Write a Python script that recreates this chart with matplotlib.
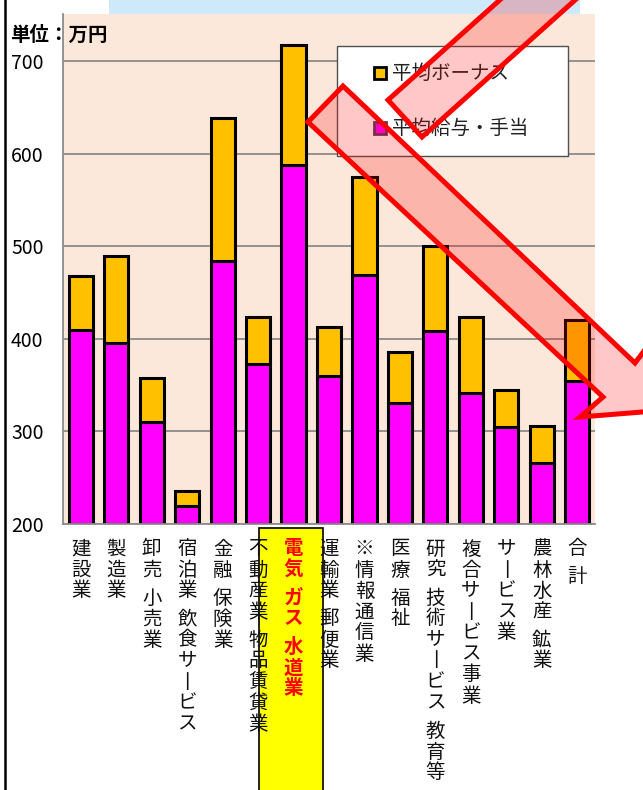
import matplotlib
matplotlib.use("Agg")
import matplotlib.pyplot as plt
from matplotlib.patches import Rectangle, Polygon
from matplotlib.lines import Line2D
import numpy as np

plt.rcParams["font.family"] = ["Noto Sans CJK JP", "DejaVu Sans"]

# industries (vertical labels, " " = small gap), values in 万円
industries = ["建設業", "製造業", "卸売 小売業", "宿泊業 飲食サ丨ビス", "金融 保険業",
              "不動産業 物品賃貸業", "電気 ガス 水道業", "運輸業 郵便業", "※情報通信業",
              "医療 福祉", "研究 技術サ丨ビス 教育等", "複合サ丨ビス事業", "サ丨ビス業",
              "農林水産 鉱業", "合 計"]
salary = [410, 396, 310, 219, 484, 373, 588, 360, 469, 331, 408, 341, 305, 266, 355]
bonus = [58, 94, 48, 17, 155, 51, 129, 53, 106, 55, 92, 83, 40, 40, 65]
highlight = 6  # 電気 ガス 水道業

yticks = [200, 300, 400, 500, 600, 700]
y_min, y_max = 200, 751

W, H = 643, 790


def fx(x):
    return x / W


def fy(y):
    return 1 - y / H


fig = plt.figure(figsize=(W / 100, H / 100), dpi=100)
ax = fig.add_axes([fx(63), fy(524), fx(595) - fx(63), fy(14) - fy(524)])
ax.set_facecolor("#FCE8DA")

x = np.arange(len(industries))
sal = np.array(salary)
bon = np.array(bonus)
ax.bar(x, sal - y_min, bottom=y_min, width=0.68, color="#FF00FF",
       edgecolor="black", linewidth=2.2, zorder=2)
ax.bar(x, bon, bottom=sal, width=0.68, color="#FFC000",
       edgecolor="black", linewidth=2.2, zorder=2)

ax.set_xlim(-0.5, len(industries) - 0.5)
ax.set_ylim(y_min, y_max)
ax.set_yticks(yticks)
ax.set_xticks([])
ax.yaxis.grid(True, color="#8c8c8c", linewidth=1.3)
ax.set_axisbelow(True)
ax.tick_params(axis="y", length=0, pad=14, labelsize=14)
for s in ["top", "right"]:
    ax.spines[s].set_visible(False)
for s in ["left", "bottom"]:
    ax.spines[s].set_color("#8c8c8c")
    ax.spines[s].set_linewidth(1.3)

# highlight box behind the 電気ガス水道業 label
ax.add_patch(Rectangle((fx(259), fy(792)), fx(323) - fx(259), fy(528) - fy(792),
                       transform=fig.transFigure, facecolor="#FFFF00",
                       edgecolor="black", linewidth=1.2, clip_on=False, zorder=3))

# vertical category labels, one character per line
for i, lab in enumerate(industries):
    off = 25
    hl = i == highlight
    for ch in lab:
        if ch == " ":
            off += 7
            continue
        ax.annotate(ch, xy=(i, 0), xycoords=ax.get_xaxis_transform(),
                    xytext=(0, -off), textcoords="offset pixels",
                    ha="center", va="center", fontsize=14,
                    color="red" if hl else "#111111",
                    fontweight="bold" if hl else "normal",
                    annotation_clip=False, zorder=4)
        off += 21

# legend box
ax.add_patch(Rectangle((fx(337), fy(156)), fx(568) - fx(337), fy(46) - fy(156),
                       transform=fig.transFigure, facecolor="white",
                       edgecolor="#505050", linewidth=1, clip_on=False, zorder=6))
for yy, col, ec, name in [(73, "#FFC000", "black", "平均ボーナス"),
                          (128, "#FF00FF", "#5a3a5a", "平均給与・手当")]:
    ax.add_patch(Rectangle((fx(374), fy(yy + 6)), fx(12), 12 / H,
                           transform=fig.transFigure, facecolor=col, edgecolor=ec,
                           linewidth=2, clip_on=False, zorder=7))
    ax.text(fx(392), fy(yy), name, transform=fig.transFigure, fontsize=14,
            color="#222222", va="center", ha="left", zorder=7)

fig.text(fx(10), fy(35), "単位：万円", fontsize=14, fontweight="bold",
         ha="left", va="center")

# title box cut off at the top
fig.add_artist(Rectangle((fx(109), fy(14)), fx(580) - fx(109), fy(0) - fy(14),
                         transform=fig.transFigure, facecolor="#CDE9FA",
                         edgecolor="none", zorder=0.5))
fig.text(fx(285), fy(-2), "電気・ガス・水道業の平均年収", color="red", fontsize=14,
         ha="center", va="baseline")

# left border line
fig.add_artist(Line2D([fx(5), fx(5)], [0, 1], transform=fig.transFigure,
                      color="black", linewidth=1.8))

# red arrow overlays
arrow_pts = [(308, 122), (343, 86), (635, 363), (653, 339), (655, 411), (580, 417), (603, 397)]
band_pts = [(388, 100), (422, 137), (593, -16), (559, -53)]
for pts in [arrow_pts, band_pts]:
    fig.add_artist(Polygon([(fx(a), fy(b)) for a, b in pts], closed=True,
                           transform=fig.transFigure, facecolor=(1, 0, 0, 0.22),
                           edgecolor="red", linewidth=3.6, joinstyle="miter", zorder=5))

fig.savefig("out.png", dpi=100)
